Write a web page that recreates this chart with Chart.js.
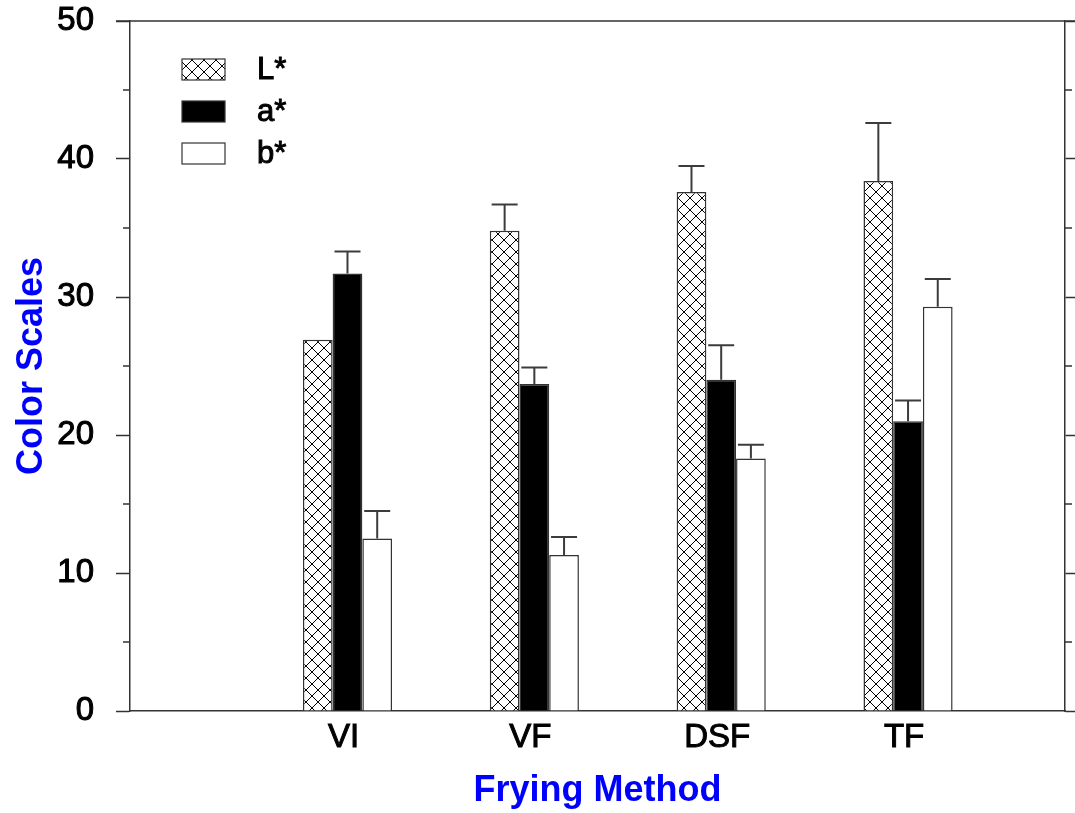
<!DOCTYPE html>
<html lang="en">

<head>
    <meta charset="UTF-8">
    <title>Color Scales by Frying Method</title>
    <script src="https://cdn.jsdelivr.net/npm/chart.js"></script>
    <style>
        body { margin: 0; background: #fff; }
        #wrap { width: 1075px; height: 813px; }
    </style>
</head>

<body>
    <div id="wrap"><canvas id="color_chart"></canvas></div>
    <script>
        // frying methods and mean colour values (with SD, drawn upward only)
        const methods = ["VI", "VF", "DSF", "TF"];
        const lStar = [26.9, 34.8, 37.6, 38.4];
        const aStar = [31.7, 23.7, 24.0, 21.0];
        const bStar = [12.5, 11.3, 18.3, 29.3];
        const lStarSd = [null, 1.9, 1.9, 4.2];
        const aStarSd = [1.6, 1.2, 2.5, 1.5];
        const bStarSd = [2.0, 1.3, 1.0, 2.0];
        const yTicks = [0, 10, 20, 30, 40, 50];

        const frameColor = "#333";

        // cross-hatch fill for the L* bars
        function crossHatch() {
            const tile = document.createElement("canvas");
            tile.width = 12;
            tile.height = 12;
            const t = tile.getContext("2d");
            t.fillStyle = "#fff";
            t.fillRect(0, 0, 12, 12);
            t.strokeStyle = "#000";
            t.lineWidth = 1;
            t.beginPath();
            t.moveTo(0, 0); t.lineTo(12, 12);
            t.moveTo(12, 0); t.lineTo(0, 12);
            t.stroke();
            return t.createPattern(tile, "repeat");
        }
        const hatch = crossHatch();

        const points = vals => vals.map((v, i) => ({ x: i + 1, y: v }));

        // vertical error bars with a cap
        const errorBars = {
            id: "errorBars",
            afterDatasetsDraw(chart) {
                const { ctx, scales: { y } } = chart;
                ctx.save();
                ctx.strokeStyle = "#3c3c3c";
                ctx.lineWidth = 2;
                chart.data.datasets.forEach((ds, di) => {
                    chart.getDatasetMeta(di).data.forEach((bar, i) => {
                        const sd = ds.errors[i];
                        if (sd == null) return;
                        const top = y.getPixelForValue(ds.data[i].y + sd);
                        ctx.beginPath();
                        ctx.moveTo(bar.x, bar.y);
                        ctx.lineTo(bar.x, top);
                        ctx.moveTo(bar.x - 13, top);
                        ctx.lineTo(bar.x + 13, top);
                        ctx.stroke();
                    });
                });
                ctx.restore();
            }
        };

        // top frame line and minor ticks on both y axes
        const frame = {
            id: "frame",
            afterDraw(chart) {
                const { ctx, chartArea: { left, right, top }, scales: { y } } = chart;
                ctx.save();
                ctx.strokeStyle = frameColor;
                ctx.lineWidth = 1.5;
                ctx.beginPath();
                ctx.moveTo(left - 14, top);
                ctx.lineTo(right + 14, top);
                for (let v = 5; v < 50; v += 10) {
                    const py = y.getPixelForValue(v);
                    ctx.moveTo(left - 7, py); ctx.lineTo(left, py);
                    ctx.moveTo(right, py); ctx.lineTo(right + 7, py);
                }
                ctx.stroke();
                ctx.restore();
            }
        };

        // legend drawn inside the plot, top left
        const innerLegend = {
            id: "innerLegend",
            afterDraw(chart) {
                const { ctx, chartArea: { left, top } } = chart;
                ctx.save();
                ctx.font = "31px 'Liberation Sans'";
                ctx.textBaseline = "middle";
                chart.data.datasets.forEach((ds, i) => {
                    const bx = left + 52, by = top + 38 + i * 42;
                    ctx.fillStyle = ds.backgroundColor;
                    ctx.fillRect(bx, by, 43, 21);
                    ctx.strokeStyle = "#333";
                    ctx.lineWidth = 1.2;
                    ctx.strokeRect(bx, by, 43, 21);
                    ctx.fillStyle = "#000";
                    ctx.strokeStyle = "#000";
                    ctx.lineWidth = 1;
                    ctx.fillText(ds.label, bx + 75, by + 11);
                    ctx.strokeText(ds.label, bx + 75, by + 11);
                });
                ctx.restore();
            }
        };

        Chart.defaults.font.family = "'Liberation Sans', Arial, sans-serif";
        Chart.defaults.color = "#000";

        const barStyle = { borderColor: "#333", borderWidth: 1.5, categoryPercentage: 0.477, barPercentage: 1.0 };

        // keep the plot edges fixed: drop the label overhang padding
        const noOverhang = scale => {
            scale.paddingTop = 0;
            scale.paddingBottom = 0;
            scale.paddingLeft = 0;
            scale.paddingRight = 0;
        };

        new Chart("color_chart", {
            type: "bar",
            data: {
                datasets: [
                    { label: "L*", data: points(lStar), errors: lStarSd, backgroundColor: hatch, ...barStyle },
                    { label: "a*", data: points(aStar), errors: aStarSd, backgroundColor: "#000", ...barStyle },
                    { label: "b*", data: points(bStar), errors: bStarSd, backgroundColor: "#fff", ...barStyle }
                ]
            },
            options: {
                responsive: true,
                maintainAspectRatio: false,
                animation: false,
                layout: { padding: { top: 21, left: 0, right: 0, bottom: 0 } },
                plugins: {
                    legend: { display: false },
                    tooltip: { enabled: false }
                },
                scales: {
                    x: {
                        type: "linear",
                        offset: false,
                        min: -0.164,
                        max: 4.84,
                        afterBuildTicks: scale => { scale.ticks = methods.map((m, i) => ({ value: i + 1 })); },
                        afterFit: scale => { scale.height = 102; noOverhang(scale); },
                        grid: { display: false, drawTicks: false, offset: false },
                        border: { display: true, color: frameColor, width: 1.5 },
                        ticks: {
                            autoSkip: false,
                            padding: 7,
                            labelOffset: -4,
                            font: { size: 33 },
                            textStrokeColor: "#000",
                            textStrokeWidth: 1,
                            callback: v => methods[v - 1]
                        },
                        title: {
                            display: true,
                            text: "Frying Method",
                            color: "#0000ff",
                            font: { size: 36, weight: "bold" },
                            padding: { top: 0, bottom: 0 }
                        }
                    },
                    y: {
                        position: "left",
                        min: 0,
                        max: 50,
                        afterBuildTicks: scale => { scale.ticks = yTicks.map(v => ({ value: v })); },
                        afterFit: scale => { scale.width = 130; noOverhang(scale); },
                        grid: { drawOnChartArea: false, tickLength: 14, tickColor: frameColor, tickWidth: 1.5 },
                        border: { display: true, color: frameColor, width: 1.5 },
                        ticks: { padding: 22, font: { size: 33 }, textStrokeColor: "#000", textStrokeWidth: 1 },
                        title: {
                            display: true,
                            text: "Color Scales",
                            color: "#0000ff",
                            font: { size: 36, weight: "bold" },
                            padding: { top: 10, bottom: 0 }
                        }
                    },
                    y2: {
                        position: "right",
                        min: 0,
                        max: 50,
                        afterBuildTicks: scale => { scale.ticks = yTicks.map(v => ({ value: v })); },
                        afterFit: scale => { scale.width = 10; noOverhang(scale); },
                        grid: { drawOnChartArea: false, tickLength: 14, tickColor: frameColor, tickWidth: 1.5 },
                        border: { display: true, color: frameColor, width: 1.5 },
                        ticks: { display: false }
                    }
                }
            },
            plugins: [errorBars, frame, innerLegend]
        });
    </script>
</body>

</html>
